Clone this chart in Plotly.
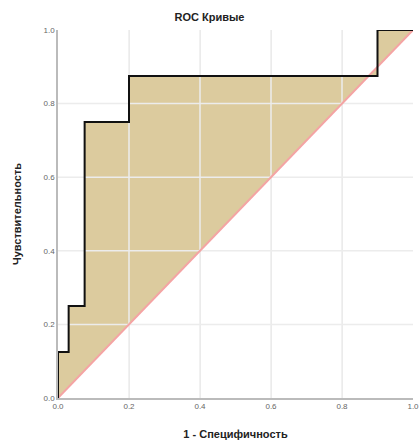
import plotly.graph_objects as go

fpr = [0.0, 0.0, 0.03, 0.03, 0.075, 0.075, 0.2, 0.2, 0.9, 0.9, 1.0]
tpr = [0.0, 0.125, 0.125, 0.25, 0.25, 0.75, 0.75, 0.875, 0.875, 1.0, 1.0]
ref_x = [0.0, 1.0]
ref_y = [0.0, 1.0]
ticks = [0.0, 0.2, 0.4, 0.6, 0.8, 1.0]
tick_labels = ["0.0", "0.2", "0.4", "0.6", "0.8", "1.0"]

fig = go.Figure()

# filled area between ROC curve and diagonal
poly_x = fpr + ref_x[::-1]
poly_y = tpr + ref_y[::-1]
fig.add_trace(go.Scatter(x=poly_x, y=poly_y, fill="toself", mode="none",
                         fillcolor="#dccb9e", hoverinfo="skip", showlegend=False))

# grid lines above the fill
gx, gy = [], []
for t in ticks[1:-1]:
    gx += [t, t, None]
    gy += [0, 1, None]
    gx += [0, 1, None]
    gy += [t, t, None]
fig.add_trace(go.Scatter(x=gx, y=gy, mode="lines", line=dict(color="#ececec", width=1.5),
                         hoverinfo="skip", showlegend=False))

fig.add_trace(go.Scatter(x=ref_x, y=ref_y, mode="lines", line=dict(color="#f4a4a4", width=2),
                         showlegend=False))
fig.add_trace(go.Scatter(x=fpr, y=tpr, mode="lines", line=dict(color="#111111", width=2),
                         showlegend=False, cliponaxis=False))

fig.update_layout(
    width=419, height=446,
    margin=dict(l=58, r=6, t=30, b=48),
    paper_bgcolor="white", plot_bgcolor="white",
    font=dict(family="Liberation Sans, Arial, sans-serif", color="#222"),
    title=dict(text="<b>ROC Кривые</b>", x=0.5, xanchor="center", y=0.962, yanchor="middle",
               font=dict(size=11, color="#222")),
)
axis_common = dict(range=[0, 1], tickvals=ticks, ticktext=tick_labels, showgrid=True,
                   gridcolor="#e6e6e6", gridwidth=1, zeroline=False, showline=True,
                   linecolor="#bbbbbb", linewidth=1.5, ticks="", mirror=False,
                   ticklabeloverflow="allow", automargin=False,
                   tickfont=dict(size=8, color="#666"))
fig.update_xaxes(**axis_common,
                 title=dict(text="<b>1 - Специфичность</b>", font=dict(size=11, color="#222"), standoff=20))
fig.update_yaxes(**axis_common,
                 title=dict(text="<b>Чувствительность</b>", font=dict(size=11, color="#222"), standoff=20))

fig.write_html("out.html")
